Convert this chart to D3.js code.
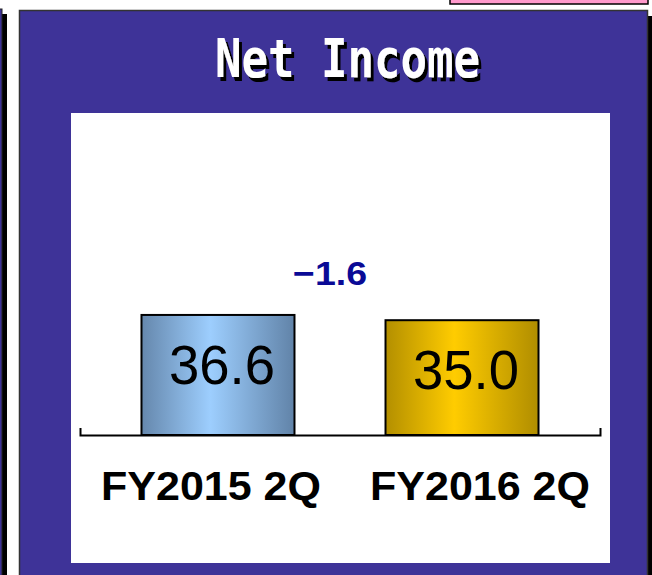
<!DOCTYPE html>
<html>
<head>
<meta charset="utf-8">
<script src="https://cdn.jsdelivr.net/npm/d3@7"></script>
<style>
  body { margin: 0; background: #fff; }
  svg { display: block; }
</style>
</head>
<body>
<div class="viz"></div>
<script>
// chart data
var title = "Net Income";
var categories = ["FY2015 2Q", "FY2016 2Q"];
var values = [36.6, 35.0];

var W = 652, H = 575;

var svg = d3.select(".viz").append("svg")
    .attr("width", W)
    .attr("height", H);

var defs = svg.append("defs");

// bar gradients
var grads = [
  { id: "gBlue", stops: [["0%", "#6587ac"], ["45%", "#9dcefe"], ["100%", "#6183a8"]] },
  { id: "gGold", stops: [["0%", "#b38f00"], ["45%", "#ffcc00"], ["100%", "#b08d00"]] }
];
grads.forEach(function(g) {
  var lg = defs.append("linearGradient").attr("id", g.id)
      .attr("x1", "0%").attr("x2", "100%").attr("y1", "0%").attr("y2", "0%");
  g.stops.forEach(function(s) {
    lg.append("stop").attr("offset", s[0]).attr("stop-color", s[1]);
  });
});

// hard black drop shadow for the title
var f = defs.append("filter").attr("id", "shadow")
    .attr("x", "-10%").attr("y", "-20%").attr("width", "130%").attr("height", "150%");
f.append("feOffset").attr("in", "SourceAlpha").attr("dx", 3).attr("dy", 4).attr("result", "off");
f.append("feFlood").attr("flood-color", "#000");
f.append("feComposite").attr("in2", "off").attr("operator", "in").attr("result", "sh");
var fm = f.append("feMerge");
fm.append("feMergeNode").attr("in", "sh");
fm.append("feMergeNode").attr("in", "SourceGraphic");

// neighbouring slide pieces
svg.append("rect").attr("x", 450).attr("y", -2).attr("width", 198).attr("height", 6)
    .attr("fill", "#ff99cc").attr("stroke", "#000").attr("stroke-width", 1.5);
svg.append("rect").attr("x", 2).attr("y", 14).attr("width", 5).attr("height", H)
    .attr("fill", "#000");
svg.append("rect").attr("x", -5).attr("y", 9).attr("width", 7).attr("height", H)
    .attr("fill", "#3e3398").attr("stroke", "#222").attr("stroke-width", 1);

// main panel with shadow
svg.append("rect").attr("x", 24).attr("y", 16).attr("width", 628).attr("height", H)
    .attr("fill", "#000");
svg.append("rect").attr("x", 19.5).attr("y", 10.5).attr("width", 628).attr("height", H)
    .attr("fill", "#3e3398").attr("stroke", "#333").attr("stroke-width", 1.5);

// white plot area
svg.append("rect").attr("x", 71).attr("y", 113).attr("width", 539).attr("height", 450)
    .attr("fill", "#fff");

// title
svg.append("text")
    .attr("x", 215).attr("y", 77)
    .attr("font-family", "DejaVu Sans Mono, monospace")
    .attr("font-weight", "bold")
    .attr("font-size", 54)
    .attr("textLength", 265)
    .attr("lengthAdjust", "spacingAndGlyphs")
    .attr("fill", "#fff")
    .attr("filter", "url(#shadow)")
    .text(title);

// scales
var x = d3.scaleBand().domain(categories).range([80, 600])
    .paddingInner(0.373).paddingOuter(0.252);
var y = d3.scaleLinear().domain([0, 40]).range([435, 303.8]);

// bars
svg.selectAll(".bar")
    .data(values)
    .enter().append("rect")
    .attr("class", "bar")
    .attr("x", function(d, i) { return x(categories[i]); })
    .attr("y", function(d) { return y(d); })
    .attr("width", x.bandwidth())
    .attr("height", function(d) { return y(0) - y(d); })
    .attr("fill", function(d, i) { return "url(#" + grads[i].id + ")"; })
    .attr("stroke", "#000")
    .attr("stroke-width", 2);

// value labels inside bars
svg.selectAll(".val")
    .data(values)
    .enter().append("text")
    .attr("class", "val")
    .attr("x", function(d, i) { return x(categories[i]) + x.bandwidth() / 2 + 4; })
    .attr("y", function(d) { return y(d) + 69; })
    .attr("text-anchor", "middle")
    .attr("font-family", "Liberation Sans, Arial, sans-serif")
    .attr("font-size", 56)
    .attr("textLength", 106)
    .attr("lengthAdjust", "spacingAndGlyphs")
    .attr("fill", "#000")
    .text(function(d) { return d3.format(".1f")(d); });

// axis: baseline with upward end ticks
var axis = svg.append("g")
    .attr("transform", "translate(0," + y(0) + ")")
    .call(d3.axisBottom(x).tickValues([]).tickSizeOuter(-7));
axis.select(".domain").attr("stroke", "#000").attr("stroke-width", 2);

// category labels
var lx = d3.scalePoint().domain(categories).range([211, 480]);
svg.selectAll(".cat")
    .data(categories)
    .enter().append("text")
    .attr("class", "cat")
    .attr("x", function(d) { return lx(d); })
    .attr("y", 500)
    .attr("text-anchor", "middle")
    .attr("font-family", "Liberation Sans, Arial, sans-serif")
    .attr("font-weight", "bold")
    .attr("font-size", 41)
    .attr("textLength", 220)
    .attr("lengthAdjust", "spacingAndGlyphs")
    .attr("fill", "#000")
    .text(function(d) { return d; });

// change label
var diff = values[1] - values[0];
svg.append("text")
    .attr("x", (x(categories[0]) + x(categories[1]) + x.bandwidth()) / 2 - 10)
    .attr("y", 285)
    .attr("text-anchor", "middle")
    .attr("font-family", "Liberation Sans, Arial, sans-serif")
    .attr("font-weight", "bold")
    .attr("font-size", 34)
    .attr("textLength", 74)
    .attr("lengthAdjust", "spacingAndGlyphs")
    .attr("fill", "#0a0a96")
    .text(d3.format(".1f")(diff));
</script>
</body>
</html>
